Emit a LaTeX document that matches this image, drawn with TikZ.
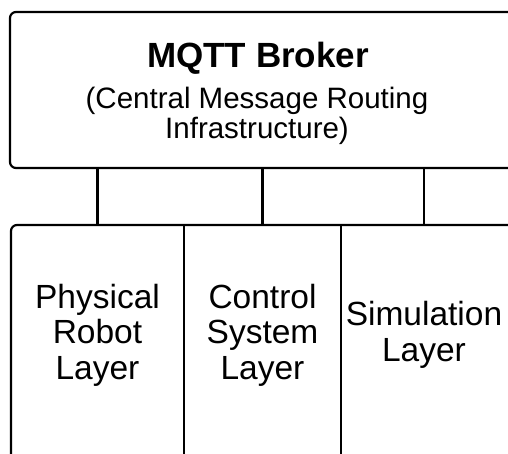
\documentclass[tikz,border=0pt]{standalone}
\usepackage{fontspec}
\setmainfont{Liberation Sans}
\begin{document}
\begin{tikzpicture}[x=1pt,y=-1pt,
  line width=2.2pt,
  frame/.style={draw=black, line width=2.2pt, rounded corners=6pt},
  box/.style={frame, inner sep=0pt, outer sep=0pt},
  panel/.style={minimum height=220pt, inner sep=0pt, outer sep=0pt, align=center,
    font=\fontsize{33.5}{35.5}\selectfont},
  title/.style={font=\fontsize{35}{40}\selectfont\bfseries, inner sep=0pt, anchor=base},
  subtitle/.style={font=\fontsize{29.5}{30}\selectfont, inner sep=0pt, align=center, anchor=north},
  link/.style={draw=black, line width=2.2pt}
]
\clip (0,0) rectangle (508,454);
\fill[white] (0,0) rectangle (508,454);

% broker box and its labels
\node[box, minimum width=520pt, minimum height=156pt] (broker) at (270,90) {};
\node[title] (brokertitle) at (258,68) {MQTT Broker};
\node[subtitle] (brokersub) at (257,86.5) {(Central Message Routing\\Infrastructure)};

% the three layers
\node[panel, minimum width=173pt] (physical) at (97.5,335) {Physical\\Robot\\Layer};
\node[panel, minimum width=157pt] (control) at (262.5,335) {Control\\System\\Layer};
\node[panel, minimum width=166pt] (simulation) at (424,335) {Simulation\\Layer};

% outer frame of the layers and dividers
\draw[frame] ([yshift=-60pt]physical.south west) -- (physical.north west)
  -- ([xshift=40pt]simulation.north east);
\draw[link] (physical.north east) -- ([yshift=-60pt]physical.south east);
\draw[link] (control.north east) -- ([yshift=-60pt]control.south east);

% links from broker to each layer
\draw[link] (broker.south -| physical.north) -- (physical.north);
\draw[link] (broker.south -| control.north) -- (control.north);
\draw[link] (broker.south -| simulation.north) -- (simulation.north);
\end{tikzpicture}
\end{document}
